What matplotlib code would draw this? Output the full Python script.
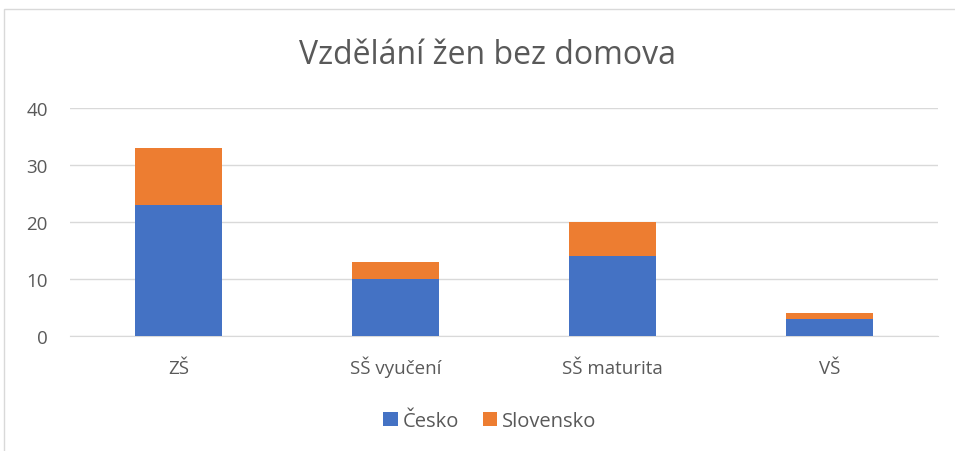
import numpy as np
import matplotlib.pyplot as plt
from matplotlib.patches import Rectangle

plt.rcParams["font.family"] = ["Open Sans", "DejaVu Sans"]

categories = ["ZŠ", "SŠ vyučení", "SŠ maturita", "VŠ"]
cesko = [23, 10, 14, 3]
slovensko = [10, 3, 6, 1]

W, H = 955, 452
fig = plt.figure(figsize=(W/100, H/100), dpi=100)
ax = fig.add_axes([70/W, 1-337/H, (938-70)/W, (337-109)/H])

x = np.arange(len(categories))
ax.bar(x, cesko, width=0.4, color="#4472C4", label="Česko", zorder=3)
ax.bar(x, slovensko, width=0.4, bottom=cesko, color="#ED7D31", label="Slovensko", zorder=3)

ax.set_xlim(-0.5, len(categories)-0.5)
ax.set_ylim(0, 40)
ax.set_yticks(np.arange(0, 41, 10))
ax.set_xticks(x)
ax.set_xticklabels(categories, va="baseline")
ax.yaxis.grid(True, color="#D9D9D9", linewidth=1, zorder=0)
for s in ["top", "right", "left"]:
    ax.spines[s].set_visible(False)
ax.spines["bottom"].set_color("#D9D9D9")
ax.tick_params(axis="both", length=0, labelsize=13.5, colors="#595959")
ax.tick_params(axis="x", pad=27)
ax.tick_params(axis="y", pad=16)

fig.text(487/W, 1-55/H, "Vzdělání žen bez domova", ha="center", va="center",
         fontsize=23, color="#595959")

leg = fig.legend(loc="center", bbox_to_anchor=(490/W, 1-422/H), ncol=2, frameon=False,
                 fontsize=14.5, handlelength=0.7, handleheight=0.7, handletextpad=0.25,
                 columnspacing=1.2)
for t in leg.get_texts():
    t.set_color("#595959")

fig.patches.append(Rectangle((3.5/W, -0.1), 1.2, 1-10/H+0.1, transform=fig.transFigure,
                             fill=False, edgecolor="#D9D9D9", linewidth=1))

fig.savefig("out.png", dpi=100)
